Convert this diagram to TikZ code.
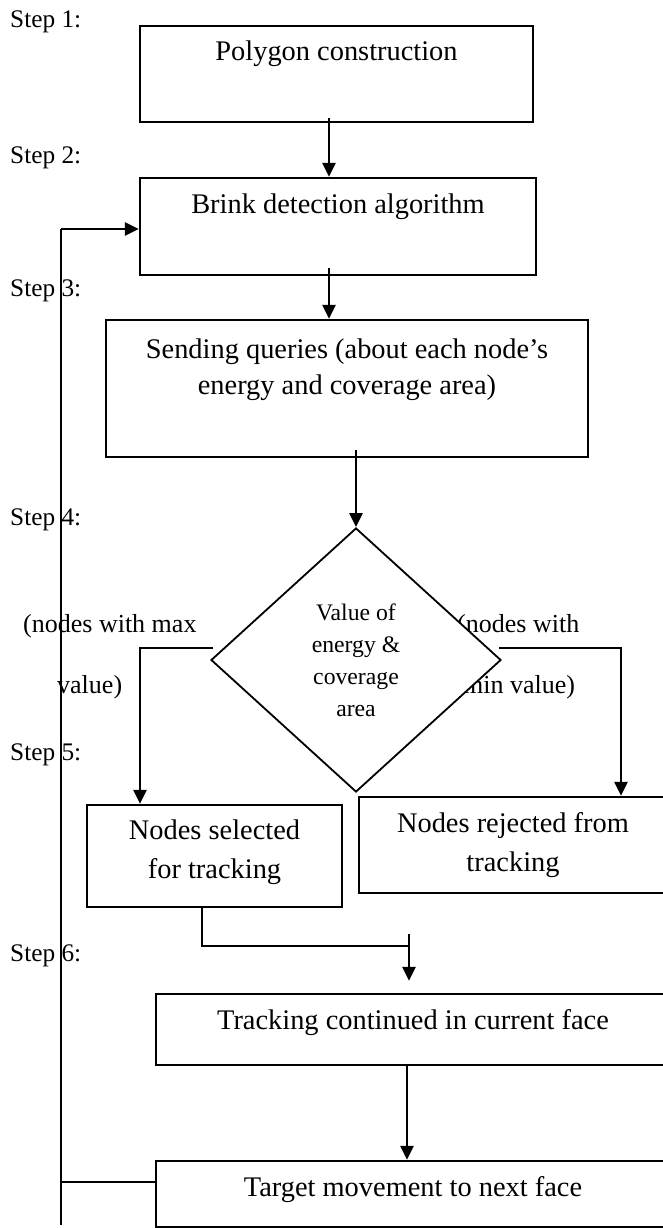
\documentclass[tikz,border=0pt]{standalone}
\usepackage{fontspec}
\setmainfont{Liberation Serif}
\usetikzlibrary{shapes.geometric,arrows.meta,calc}

% type sizes (1 unit = 1pt)
\newcommand\boxfont{\fontsize{28.4pt}{36pt}\selectfont}
\newcommand\boxfontloose{\fontsize{28.4pt}{39pt}\selectfont}
\newcommand\stepfont{\fontsize{25.3pt}{30pt}\selectfont}
\newcommand\sidefont{\fontsize{26pt}{30pt}\selectfont}
\newcommand\decfont{\fontsize{23.7pt}{32pt}\selectfont}

\begin{document}
\begin{tikzpicture}[x=1pt,y=-1pt,
  box/.style={draw, line width=2.4pt, inner sep=0pt},
  txt/.style={inner sep=0pt, align=center, font=\boxfont},
  txtloose/.style={inner sep=0pt, align=center, font=\boxfontloose},
  steplbl/.style={anchor=base west, inner sep=0pt, font=\stepfont},
  side/.style={anchor=west, inner sep=0pt, font=\sidefont},
  decision/.style={diamond, draw, fill=white, line width=1.8pt, inner sep=0pt,
    align=center, font=\decfont},
  conn/.style={line width=2.2pt},
  arr/.style={line width=2.8pt, -{Triangle[length=14pt,width=13pt]}}]

\useasboundingbox (0,0) rectangle (663,1228);
\clip (0,0) rectangle (663,1228);
\fill[white] (0,0) rectangle (663,1228);

% step labels down the left margin
\node[steplbl] (s1) at (10,28)  {Step 1:};
\node[steplbl] (s2) at (10,163) {Step 2:};
\node[steplbl] (s3) at (10,296) {Step 3:};
\node[steplbl] (s4) at (10,525) {Step 4:};
\node[steplbl] (s5) at (10,760) {Step 5:};
\node[steplbl] (s6) at (10,961) {Step 6:};

% process boxes
\node[box, minimum width=393pt, minimum height=96pt]  (b1)  at (336.5,74)   {};
\node[box, minimum width=396pt, minimum height=97pt]  (b2)  at (338,226.5)  {};
\node[box, minimum width=482pt, minimum height=137pt] (b3)  at (347,388.5)  {};
\node[box, minimum width=255pt, minimum height=102pt] (sel) at (214.5,856)  {};
\node[box, minimum width=308pt, minimum height=96pt]  (rej) at (513,845)    {};
\node[box, minimum width=514pt, minimum height=71pt]  (trk) at (413,1029.5) {};
\node[box, minimum width=514pt, minimum height=66pt]  (tgt) at (413,1194)   {};

\node[txt] (b1t) at ([yshift=20pt]b1.center) {Polygon construction};
\node[txt] (b2t) at ([yshift=19.5pt]b2.center) {Brink detection algorithm};
\node[txt] (b3t) at ([yshift=18.5pt]b3.center)
  {Sending queries (about each node’s\\energy and coverage area)};
\node[txtloose] (selt) at ([yshift=3.5pt]sel.center) {Nodes selected\\for tracking};
\node[txtloose] (rejt) at (rej.center) {Nodes rejected from\\tracking};
\node[txt] (trkt) at ([yshift=6.5pt]trk.center) {Tracking continued in current face};
\node[txt] (tgtt) at ([yshift=4pt]tgt.center) {Target movement to next face};

% branch labels (partly covered by the decision diamond)
\node[side] (lmax1) at (23,626)  {(nodes with max};
\node[side] (lmax2) at (57,687)  {value)};
\node[side] (lmin1) at (457,626) {(nodes with};
\node[side] (lmin2) at (463,687) {min value)};

% decision
\node[decision, minimum width=290pt, minimum height=264pt] (dia) at (356,660)
  {Value of\\energy \&\\coverage\\area};

% main flow
\draw[arr] ([xshift=-7.5pt,yshift=5pt]b1.south) -- ([xshift=-9pt]b2.north);
\draw[arr] ([xshift=-9pt,yshift=8pt]b2.south) -- ([xshift=-18pt]b3.north);
\draw[arr] ([xshift=9pt,yshift=8pt]b3.south) -- (dia.north);

% branches out of the decision
\coordinate (lc) at (213,648);
\coordinate (rc) at (499,648);
\draw[arr] (lc) -| ([xshift=-74.5pt]sel.north);
\draw[arr] (rc) -| ([xshift=108pt]rej.north);

% selected nodes continue tracking
\coordinate (j) at (409,946);
\draw[conn] ([xshift=-12.5pt]sel.south) |- (j);
\draw[arr] ($(j)+(0,-12)$) -- ($(trk.north -| j)+(0,-12)$);
\draw[arr] ([xshift=-6pt]trk.south) -- ([xshift=-6pt]tgt.north);

% loop back to brink detection
\coordinate (fbt) at (61,229);
\coordinate (fbb) at (61,1225);
\coordinate (tw) at ($(tgt.west)+(0,-12)$);
\draw[conn] (fbb) -- (fbt);
\draw[arr] (fbt) -- (fbt -| b2.west);
\draw[conn] (tw) -- (tw -| fbt);
\end{tikzpicture}
\end{document}
